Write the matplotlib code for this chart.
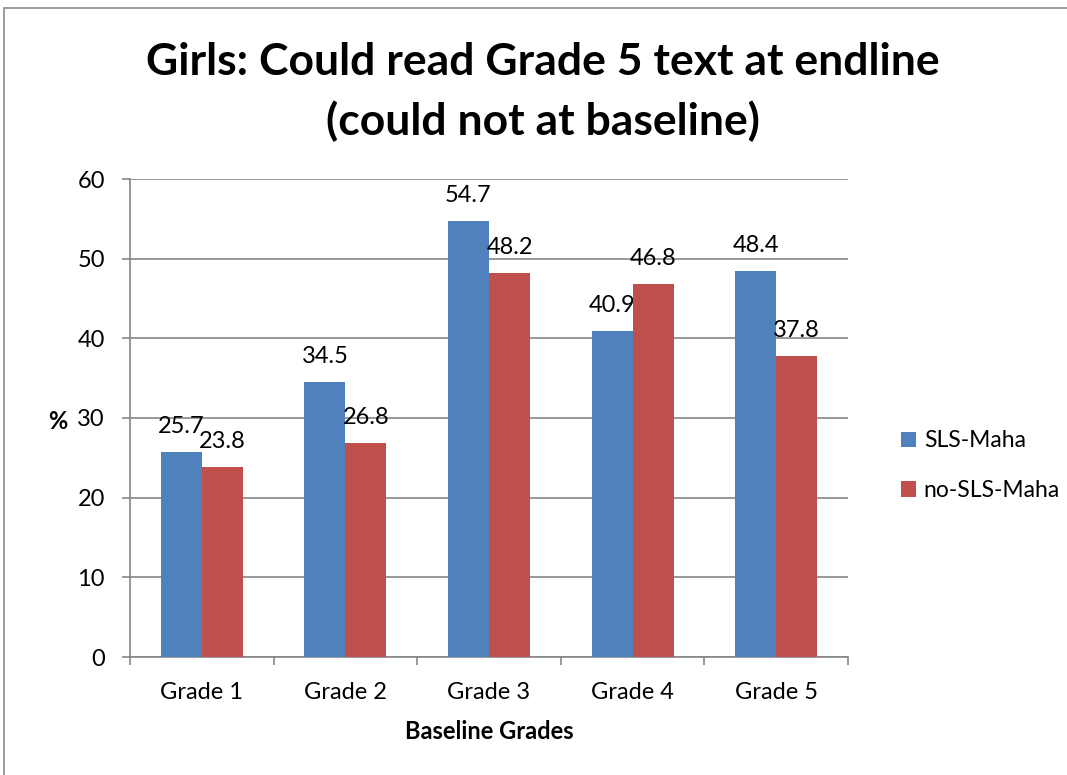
import matplotlib
matplotlib.use("Agg")
import matplotlib.pyplot as plt
from matplotlib.patches import Rectangle
import numpy as np

categories = ["Grade 1", "Grade 2", "Grade 3", "Grade 4", "Grade 5"]
series_names = ["SLS-Maha", "no-SLS-Maha"]
sls_maha = [25.7, 34.5, 54.7, 40.9, 48.4]
no_sls_maha = [23.8, 26.8, 48.2, 46.8, 37.8]
y_ticks = [0, 10, 20, 30, 40, 50, 60]

colors = ["#4F81BD", "#C0504D"]
grid_color = "#868686"

plt.rcParams["font.family"] = ["Lato", "DejaVu Sans"]

fig = plt.figure(figsize=(10.67, 7.75), dpi=100)
ax = fig.add_axes([130 / 1067, 1 - 657 / 775, 718 / 1067, 478 / 775])

# outer chart border
fig.patches.append(Rectangle((4 / 1067, -0.05), 1.2, 1 - 8 / 775 + 0.05,
                             transform=fig.transFigure, fill=False,
                             edgecolor="#8c8c8c", linewidth=1.2))

x = np.arange(len(categories))
w = 1 / 3.5
for i, (vals, name) in enumerate(zip([sls_maha, no_sls_maha], series_names)):
    pos = x + (i - 0.5) * w
    bars = ax.bar(pos, vals, width=w, color=colors[i], label=name, zorder=3)
    for b, v in zip(bars, vals):
        ax.annotate(f"{v:.1f}", (b.get_x() + b.get_width() / 2, v),
                    xytext=(0, 11), textcoords="offset points",
                    ha="center", va="bottom", fontsize=17, color="black")

ax.set_xlim(-0.5, len(categories) - 0.5)
ax.set_ylim(0, 60)
ax.set_yticks(y_ticks)
ax.set_xticks(x)
ax.set_xticklabels(categories)
ax.set_xticks(np.arange(-0.5, len(categories), 1), minor=True)
ax.tick_params(axis="x", which="major", length=0, pad=18, labelsize=17)
ax.tick_params(axis="x", which="minor", length=6, color=grid_color, width=1.2)
ax.tick_params(axis="y", length=6, color=grid_color, width=1.2, labelsize=17, pad=12)
ax.yaxis.grid(True, color=grid_color, linewidth=1.2, zorder=0)

for side in ["top", "right"]:
    ax.spines[side].set_visible(False)
for side in ["left", "bottom"]:
    ax.spines[side].set_color(grid_color)
    ax.spines[side].set_linewidth(1.2)

ax.set_xlabel("Baseline Grades", fontsize=17, fontweight="bold", labelpad=12)
ax.set_ylabel("%", fontsize=17, fontweight="bold", rotation=0, labelpad=0,
              va="center", ha="center")
ax.yaxis.set_label_coords(-0.1, 0.492)

fig.text(543 / 1067, 1 - 92 / 775, "Girls: Could read Grade 5 text at endline\n(could not at baseline)",
         ha="center", va="center", fontsize=32, fontweight="bold", linespacing=1.55)

leg = ax.legend(loc="center left", bbox_to_anchor=(1.045, 0.40), frameon=False,
                fontsize=16.5, handlelength=0.65, handleheight=0.65,
                handletextpad=0.35, labelspacing=1.25)

fig.savefig("out.png", dpi=100)
